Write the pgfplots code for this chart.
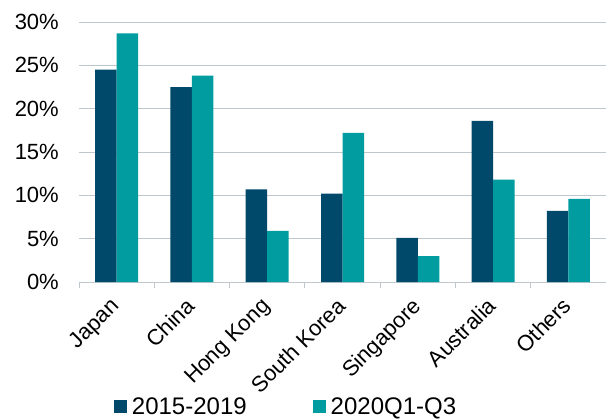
\documentclass[border=0pt]{standalone}
\usepackage{pgfplots}
\pgfplotsset{compat=1.18}
\usepackage{fontspec}
\setmainfont{Liberation Sans}
\definecolor{navy}{RGB}{0,73,107}
\definecolor{teal}{RGB}{0,156,160}
\definecolor{gridc}{RGB}{190,200,204}
\begin{document}
\begin{tikzpicture}
\begin{axis}[
  scale only axis,
  width=527bp, height=260bp,
  xmin=-0.5, xmax=6.5,
  ymin=0, ymax=30,
  ybar=0pt, bar width=21.5bp,
  xtick={0,...,6},
  xticklabels={Japan,China,Hong Kong,South Korea,Singapore,Australia,Others},
  minor xtick={-0.5,0.5,...,6.5},
  ytick={0,5,...,30},
  yticklabels={0\%,5\%,10\%,15\%,20\%,25\%,30\%},
  major tick length=0pt,
  minor tick length=6bp,
  tick align=outside,
  minor tick style={gridc, line width=1pt},
  ymajorgrids,
  grid style={gridc, line width=1pt},
  axis x line*=bottom,
  axis y line*=left,
  y axis line style={draw=none},
  x axis line style={gridc, line width=1pt, -},
  yticklabel style={font=\fontsize{22bp}{24bp}\selectfont, inner sep=0pt, xshift=-20bp},
  xticklabel style={font=\fontsize{22bp}{24bp}\selectfont, rotate=45, anchor=north east,
    inner sep=0pt, xshift=-15bp, yshift=-5bp},
  legend style={at={(0.391,-0.479)}, anchor=center, draw=none, fill=none, inner sep=0pt,
    legend columns=2, font=\fontsize{24bp}{26bp}\selectfont,
    /tikz/every odd column/.append style={column sep=5bp},
    /tikz/every even column/.append style={column sep=66bp},
    nodes={inner xsep=0pt}},
  legend image code/.code={\fill[#1] (0bp,-6.5bp) rectangle (13bp,6.5bp);},
]
\addplot[fill=navy, draw=none] coordinates {
  (0,24.5) (1,22.5) (2,10.7) (3,10.2) (4,5.1) (5,18.6) (6,8.2)};
\addlegendentry{2015-2019}
\addplot[fill=teal, draw=none] coordinates {
  (0,28.7) (1,23.8) (2,5.9) (3,17.2) (4,3.0) (5,11.8) (6,9.6)};
\addlegendentry{2020Q1-Q3}
\end{axis}
\pgfresetboundingbox
\path (current axis.south west) ++(-79bp,-137bp) rectangle ++(606bp,419bp);
\end{tikzpicture}
\end{document}
